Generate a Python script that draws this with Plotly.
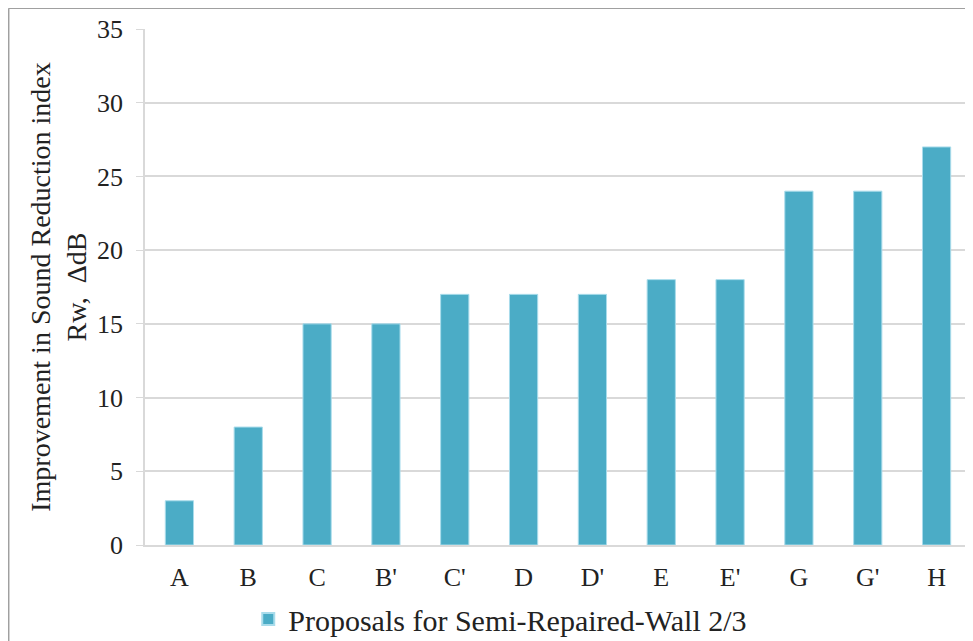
import plotly.graph_objects as go

# categories and values
proposals = ["A", "B", "C", "B'", "C'", "D", "D'", "E", "E'", "G", "G'", "H"]
improvement = [3, 8, 15, 15, 17, 17, 17, 18, 18, 24, 24, 27]
y_ticks = [0, 5, 10, 15, 20, 25, 30, 35]

fig = go.Figure()
fig.add_trace(go.Bar(
    x=proposals,
    y=improvement,
    name="Proposals for Semi-Repaired-Wall 2/3",
    marker=dict(color="#4BACC6", line=dict(color="#A9DCEB", width=1)),
))

# page body adds an 8px margin, so the figure is 8px smaller
fig.update_layout(
    width=965,
    height=633,
    margin=dict(l=137, r=2, t=21, b=96, autoexpand=False),
    paper_bgcolor="white",
    plot_bgcolor="white",
    bargap=0.59,
    font=dict(family="Liberation Serif, Times New Roman, serif", size=26, color="#222222"),
    showlegend=True,
    legend=dict(
        orientation="h",
        x=0.125, xanchor="left",
        y=-0.093, yanchor="top",
        font=dict(size=30),
        itemsizing="constant",
    ),
    shapes=[
        dict(type="line", xref="paper", yref="paper", x0=-0.165, x1=1.01, y0=1.04, y1=1.04,
             line=dict(color="#A0A0A0", width=1.5)),
        dict(type="line", xref="paper", yref="paper", x0=-0.165, x1=-0.165, y0=1.04, y1=-0.2,
             line=dict(color="#A0A0A0", width=1.5)),
    ],
)

fig.update_yaxes(
    range=[0, 35],
    tickvals=y_ticks,
    automargin=False,
    showgrid=True,
    gridcolor="#D9D9D9",
    gridwidth=1.5,
    showline=True,
    linecolor="#D9D9D9",
    linewidth=1.5,
    ticks="outside",
    ticklen=7,
    tickcolor="#D9D9D9",
    ticklabelstandoff=8,
    zeroline=False,
    title=dict(text="Improvement in Sound Reduction index<br>Rw,  \u0394dB", font=dict(size=28), standoff=2),
)
fig.update_xaxes(
    automargin=False,
    showline=True,
    linecolor="#D9D9D9",
    linewidth=1.5,
    ticks="",
    ticklabelstandoff=8,
    tickfont=dict(size=26),
)

fig.write_html("out.html")
